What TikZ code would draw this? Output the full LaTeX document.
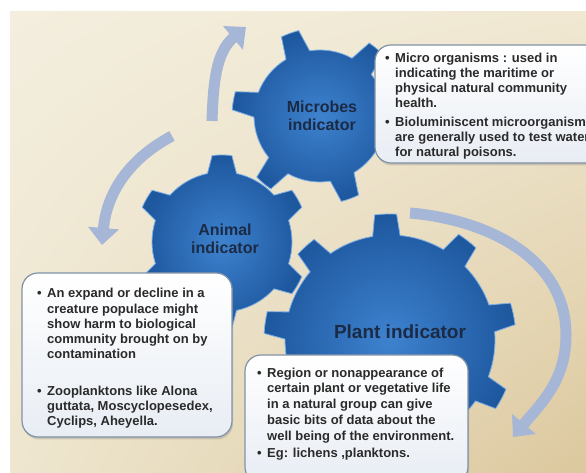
\documentclass[tikz,border=0pt]{standalone}
\usepackage{fontspec}
\setmainfont{Liberation Sans}
\usepackage{tikz}
\usetikzlibrary{arrows.meta,positioning,calc,shadows,shadings}

\definecolor{creamtl}{HTML}{F3EEDE}
\definecolor{creamtr}{HTML}{F0E8D2}
\definecolor{creambl}{HTML}{EEE6CF}
\definecolor{tanbr}{HTML}{DCC89E}
\definecolor{gearlight}{HTML}{3E82CE}
\definecolor{geardark}{HTML}{1D579E}
\definecolor{gearedge}{HTML}{7DAEE4}
\definecolor{navy}{HTML}{1B2B45}
\definecolor{arrowblue}{HTML}{A6B6D6}
\definecolor{boxedge}{HTML}{8292A6}
\definecolor{boxtint}{HTML}{E8EDF4}
\definecolor{textgray}{HTML}{2A2A2A}

\begin{document}
\begin{tikzpicture}[x=1pt,y=1pt,
  gear/.style={inner color=gearlight,outer color=geardark,draw=gearedge,line width=0.8pt},
  gearlabel/.style={font=\bfseries\fontsize{16}{18}\selectfont,text=navy,align=center},
  infobox/.style={draw=boxedge,line width=1.2pt,rounded corners=16pt,
    top color=white,bottom color=boxtint,
    drop shadow={shadow xshift=1pt,shadow yshift=-2.5pt,opacity=0.3}},
  infotext/.style={font=\bfseries\fontsize{13}{15}\selectfont,text=textgray,
    inner sep=0pt,anchor=north west},
  turnarrow/.style={line width=11pt,draw=arrowblue,-{Triangle[width=30pt,length=17pt]}}]

  \useasboundingbox (0,0) rectangle (586,473);

  % Backdrop
  \fill[white] (0,0) rectangle (586,473);
  \shade[upper left=creamtl,upper right=creamtr,lower left=creambl,lower right=tanbr]
    (10,0) rectangle (586,461);

  % Arrows round the gears
  \coordinate (tS) at (212,352);
  \coordinate (tE) at (246,446);
  \coordinate (lS) at (172,337);
  \coordinate (lE) at (102,228);
  \coordinate (rS) at (410,260);
  \coordinate (rM) at (566,138);
  \coordinate (rE) at (513,36);
  \draw[turnarrow] (tS) to[out=88,in=220] (tE);
  \draw[turnarrow] (lS) to[out=208,in=85] (lE);
  \draw[turnarrow] (rS) to[out=-5,in=90] (rM) to[out=-90,in=50] (rE);

  % Gear 1: microbes
  \begin{scope}[shift={(320,357)}]
    \shadedraw[gear] (39:66)
      \foreach \a in {50,110,...,350} {
        -- ({\a-11}:66) -- ({\a-6}:88)
        arc[start angle=\a-6,end angle=\a+6,radius=88]
        -- ({\a+11}:66)
        arc[start angle=\a+11,end angle=\a+49,radius=66]
      } -- cycle;
    \node[gearlabel] (microbes) at (2,0) {Microbes\\indicator};
  \end{scope}

  % Gear 2: animal
  \begin{scope}[shift={(222,231)}]
    \shadedraw[gear] (18:70)
      \foreach \a in {30,90,...,330} {
        -- ({\a-12}:70) -- ({\a-6.5}:87)
        arc[start angle=\a-6.5,end angle=\a+6.5,radius=87]
        -- ({\a+12}:70)
        arc[start angle=\a+12,end angle=\a+48,radius=70]
      } -- cycle;
    \node[gearlabel] (animal) at (3,3) {Animal\\indicator};
  \end{scope}

  % Gear 3: plant
  \begin{scope}[shift={(390,133)}]
    \shadedraw[gear] (4.5:105)
      \foreach \a in {12,52,...,332} {
        -- ({\a-7.5}:105) -- ({\a-5}:126)
        arc[start angle=\a-5,end angle=\a+5,radius=126]
        -- ({\a+7.5}:105)
        arc[start angle=\a+7.5,end angle=\a+32.5,radius=105]
      } -- cycle;
    \node[gearlabel,font=\bfseries\fontsize{19}{22}\selectfont] (plant) at (10,8)
      {Plant indicator};
  \end{scope}

  % Info boxes
  \node[infobox,minimum width=232pt,minimum height=118pt] (microbox) at (491,369) {};
  \node[infotext] (microtext) at (385,421) {%
    \begin{tabular}{@{}p{10pt}@{}l@{}}
      • & Micro organisms : used in\\
        & indicating the maritime or\\
        & physical natural community\\
        & health.\\[4pt]
      • & Bioluminiscent microorganism\\
        & are generally used to test water\\
        & for natural poisons.
    \end{tabular}};

  \node[infobox,minimum width=210pt,minimum height=164pt] (animalbox) at (127,118) {};
  \node[infotext,font=\bfseries\fontsize{13}{15.25}\selectfont] (animaltext) at (37,186) {%
    \begin{tabular}{@{}p{10pt}@{}l@{}}
      • & An expand or decline in a\\
        & creature populace might\\
        & show harm to biological\\
        & community brought on by\\
        & contamination\\[21pt]
      • & Zooplanktons like Alona\\
        & guttata, Moscyclopesedex,\\
        & Cyclips, Aheyella.
    \end{tabular}};

  \node[infobox,minimum width=223pt,minimum height=128pt] (plantbox) at (356.5,54) {};
  \node[infotext,font=\bfseries\fontsize{13}{15.75}\selectfont] (planttext) at (257,107) {%
    \begin{tabular}{@{}p{10pt}@{}l@{}}
      • & Region or nonappearance of\\
        & certain plant or vegetative life\\
        & in a natural group can give\\
        & basic bits of data about the\\
        & well being of the environment.\\[2pt]
      • & Eg: lichens ,planktons.
    \end{tabular}};

\end{tikzpicture}
\end{document}
